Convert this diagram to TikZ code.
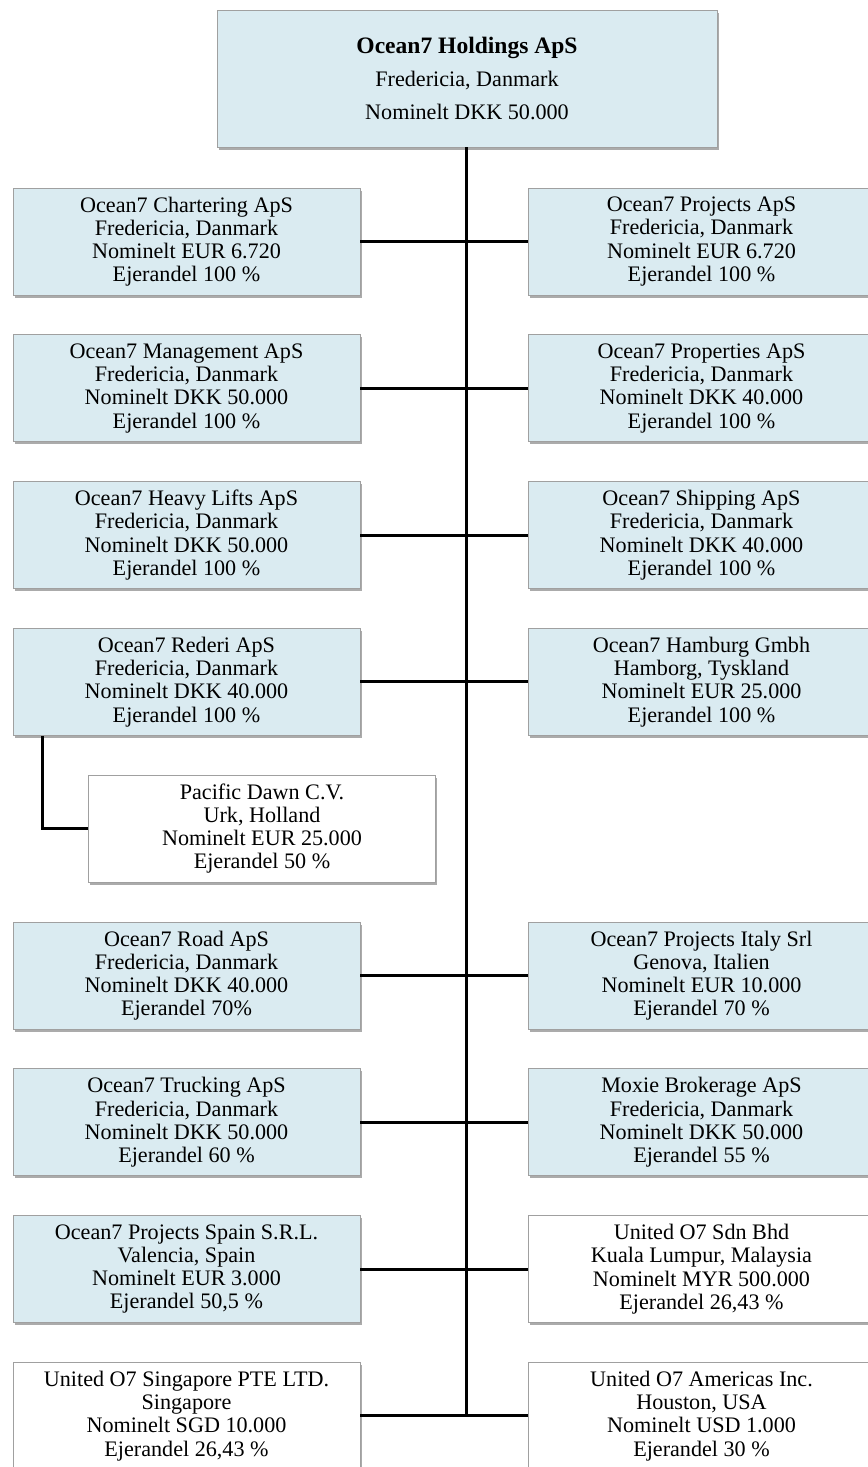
\documentclass[tikz,border=0pt]{standalone}
\usepackage{fontspec}
\setmainfont{Liberation Serif}
\usepackage{tikz}
\usetikzlibrary{shadows}
\definecolor{boxblue}{RGB}{218,235,241}
\definecolor{boxgray}{RGB}{160,160,160}
\tikzstyle{firma} = [rectangle, draw=boxgray, fill=boxblue, minimum width=6.94cm, minimum height=2.14cm, align=center, font=\fontsize{12.6}{13.2}\selectfont, drop shadow={shadow xshift=1pt, shadow yshift=-1.5pt, fill=black!55, opacity=.6}]
\tikzstyle{andel} = [firma, fill=white]
\tikzstyle{line} = [line width=1.7pt]

\begin{document}
\begin{tikzpicture}[node distance = 2.936cm]
            \useasboundingbox (0,0) rectangle (17.34,-29.34);
            \node (holding) [firma, minimum width=10cm, minimum height=2.74cm, font=\fontsize{12.6}{18.8}\selectfont] at (9.34,-1.57) {{\fontsize{13.4}{18.8}\selectfont\bfseries Ocean7 Holdings ApS}\\Fredericia, Danmark\\Nominelt DKK 50.000};
            \coordinate (bund) at (9.32,0);
            
            \node (charter) [firma] at (3.73,-4.83) {Ocean7 Chartering ApS\\Fredericia, Danmark\\Nominelt EUR 6.720\\Ejerandel 100 \%};
            \node (projects) [firma, right of = charter, xshift = 7.364cm] {Ocean7 Projects ApS\\Fredericia, Danmark\\Nominelt EUR 6.720\\Ejerandel 100 \%};
            
            \node (mgmt) [firma, below of = charter] {Ocean7 Management ApS\\Fredericia, Danmark\\Nominelt DKK 50.000\\Ejerandel 100 \%};
            \node (props) [firma, right of = mgmt, xshift = 7.364cm] {Ocean7 Properties ApS\\Fredericia, Danmark\\Nominelt DKK 40.000\\Ejerandel 100 \%};
            
            \node (heavy) [firma, below of = mgmt] {Ocean7 Heavy Lifts ApS\\Fredericia, Danmark\\Nominelt DKK 50.000\\Ejerandel 100 \%};
            \node (shipping) [firma, right of = heavy, xshift = 7.364cm] {Ocean7 Shipping ApS\\Fredericia, Danmark\\Nominelt DKK 40.000\\Ejerandel 100 \%};
            
            \node (rederi) [firma, below of = heavy] {Ocean7 Rederi ApS\\Fredericia, Danmark\\Nominelt DKK 40.000\\Ejerandel 100 \%};
            \node (hamburg) [firma, right of = rederi, xshift = 7.364cm] {Ocean7 Hamburg Gmbh\\Hamborg, Tyskland\\Nominelt EUR 25.000\\Ejerandel 100 \%};
            
            \node (pacific) [andel, below of = rederi, xshift = 1.51cm] {Pacific Dawn C.V.\\Urk, Holland\\Nominelt EUR 25.000\\Ejerandel 50 \%};
            
            \node (road) [firma, below of = pacific, xshift = -1.51cm] {Ocean7 Road ApS\\Fredericia, Danmark\\Nominelt DKK 40.000\\Ejerandel 70\%};
            \node (italy) [firma, right of = road, xshift = 7.364cm] {Ocean7 Projects Italy Srl\\Genova, Italien\\Nominelt EUR 10.000\\Ejerandel 70 \%};
            
            \node (trucking) [firma, below of = road] {Ocean7 Trucking ApS\\Fredericia, Danmark\\Nominelt DKK 50.000\\Ejerandel 60 \%};
            \node (moxie) [firma, right of = trucking, xshift = 7.364cm] {Moxie Brokerage ApS\\Fredericia, Danmark\\Nominelt DKK 50.000\\Ejerandel 55 \%};
            
            \node (spain) [firma, below of = trucking] {Ocean7 Projects Spain S.R.L.\\Valencia, Spain\\Nominelt EUR 3.000\\Ejerandel 50,5 \%};
            \node (malaysia) [andel, right of = spain, xshift = 7.364cm] {United O7 Sdn Bhd\\Kuala Lumpur, Malaysia\\Nominelt MYR 500.000\\Ejerandel 26,43 \%};
            
            \node (singapore) [andel, below of = spain] {United O7 Singapore PTE LTD.\\Singapore\\Nominelt SGD 10.000\\Ejerandel 26,43 \%};
            \node (americas) [andel, right of = singapore, xshift = 7.364cm] {United O7 Americas Inc.\\Houston, USA\\Nominelt USD 1.000\\Ejerandel 30 \%};
            
            
            \draw [line] (holding.south -| bund) -- (singapore.east -| bund);
            
            \draw [line] (charter) -- (projects);
            \draw [line] (mgmt) -- (props);
            \draw [line] (heavy) -- (shipping);
            \draw [line] (rederi) -- (hamburg);
            \draw [line] ([xshift = 0.6cm]rederi.south west) |- (pacific.west);
            \draw [line] (road) -- (italy);
            \draw [line] (trucking) -- (moxie);
            \draw [line] (spain) -- (malaysia);
            \draw [line] (singapore) -- (americas);
        \end{tikzpicture}
\end{document}
